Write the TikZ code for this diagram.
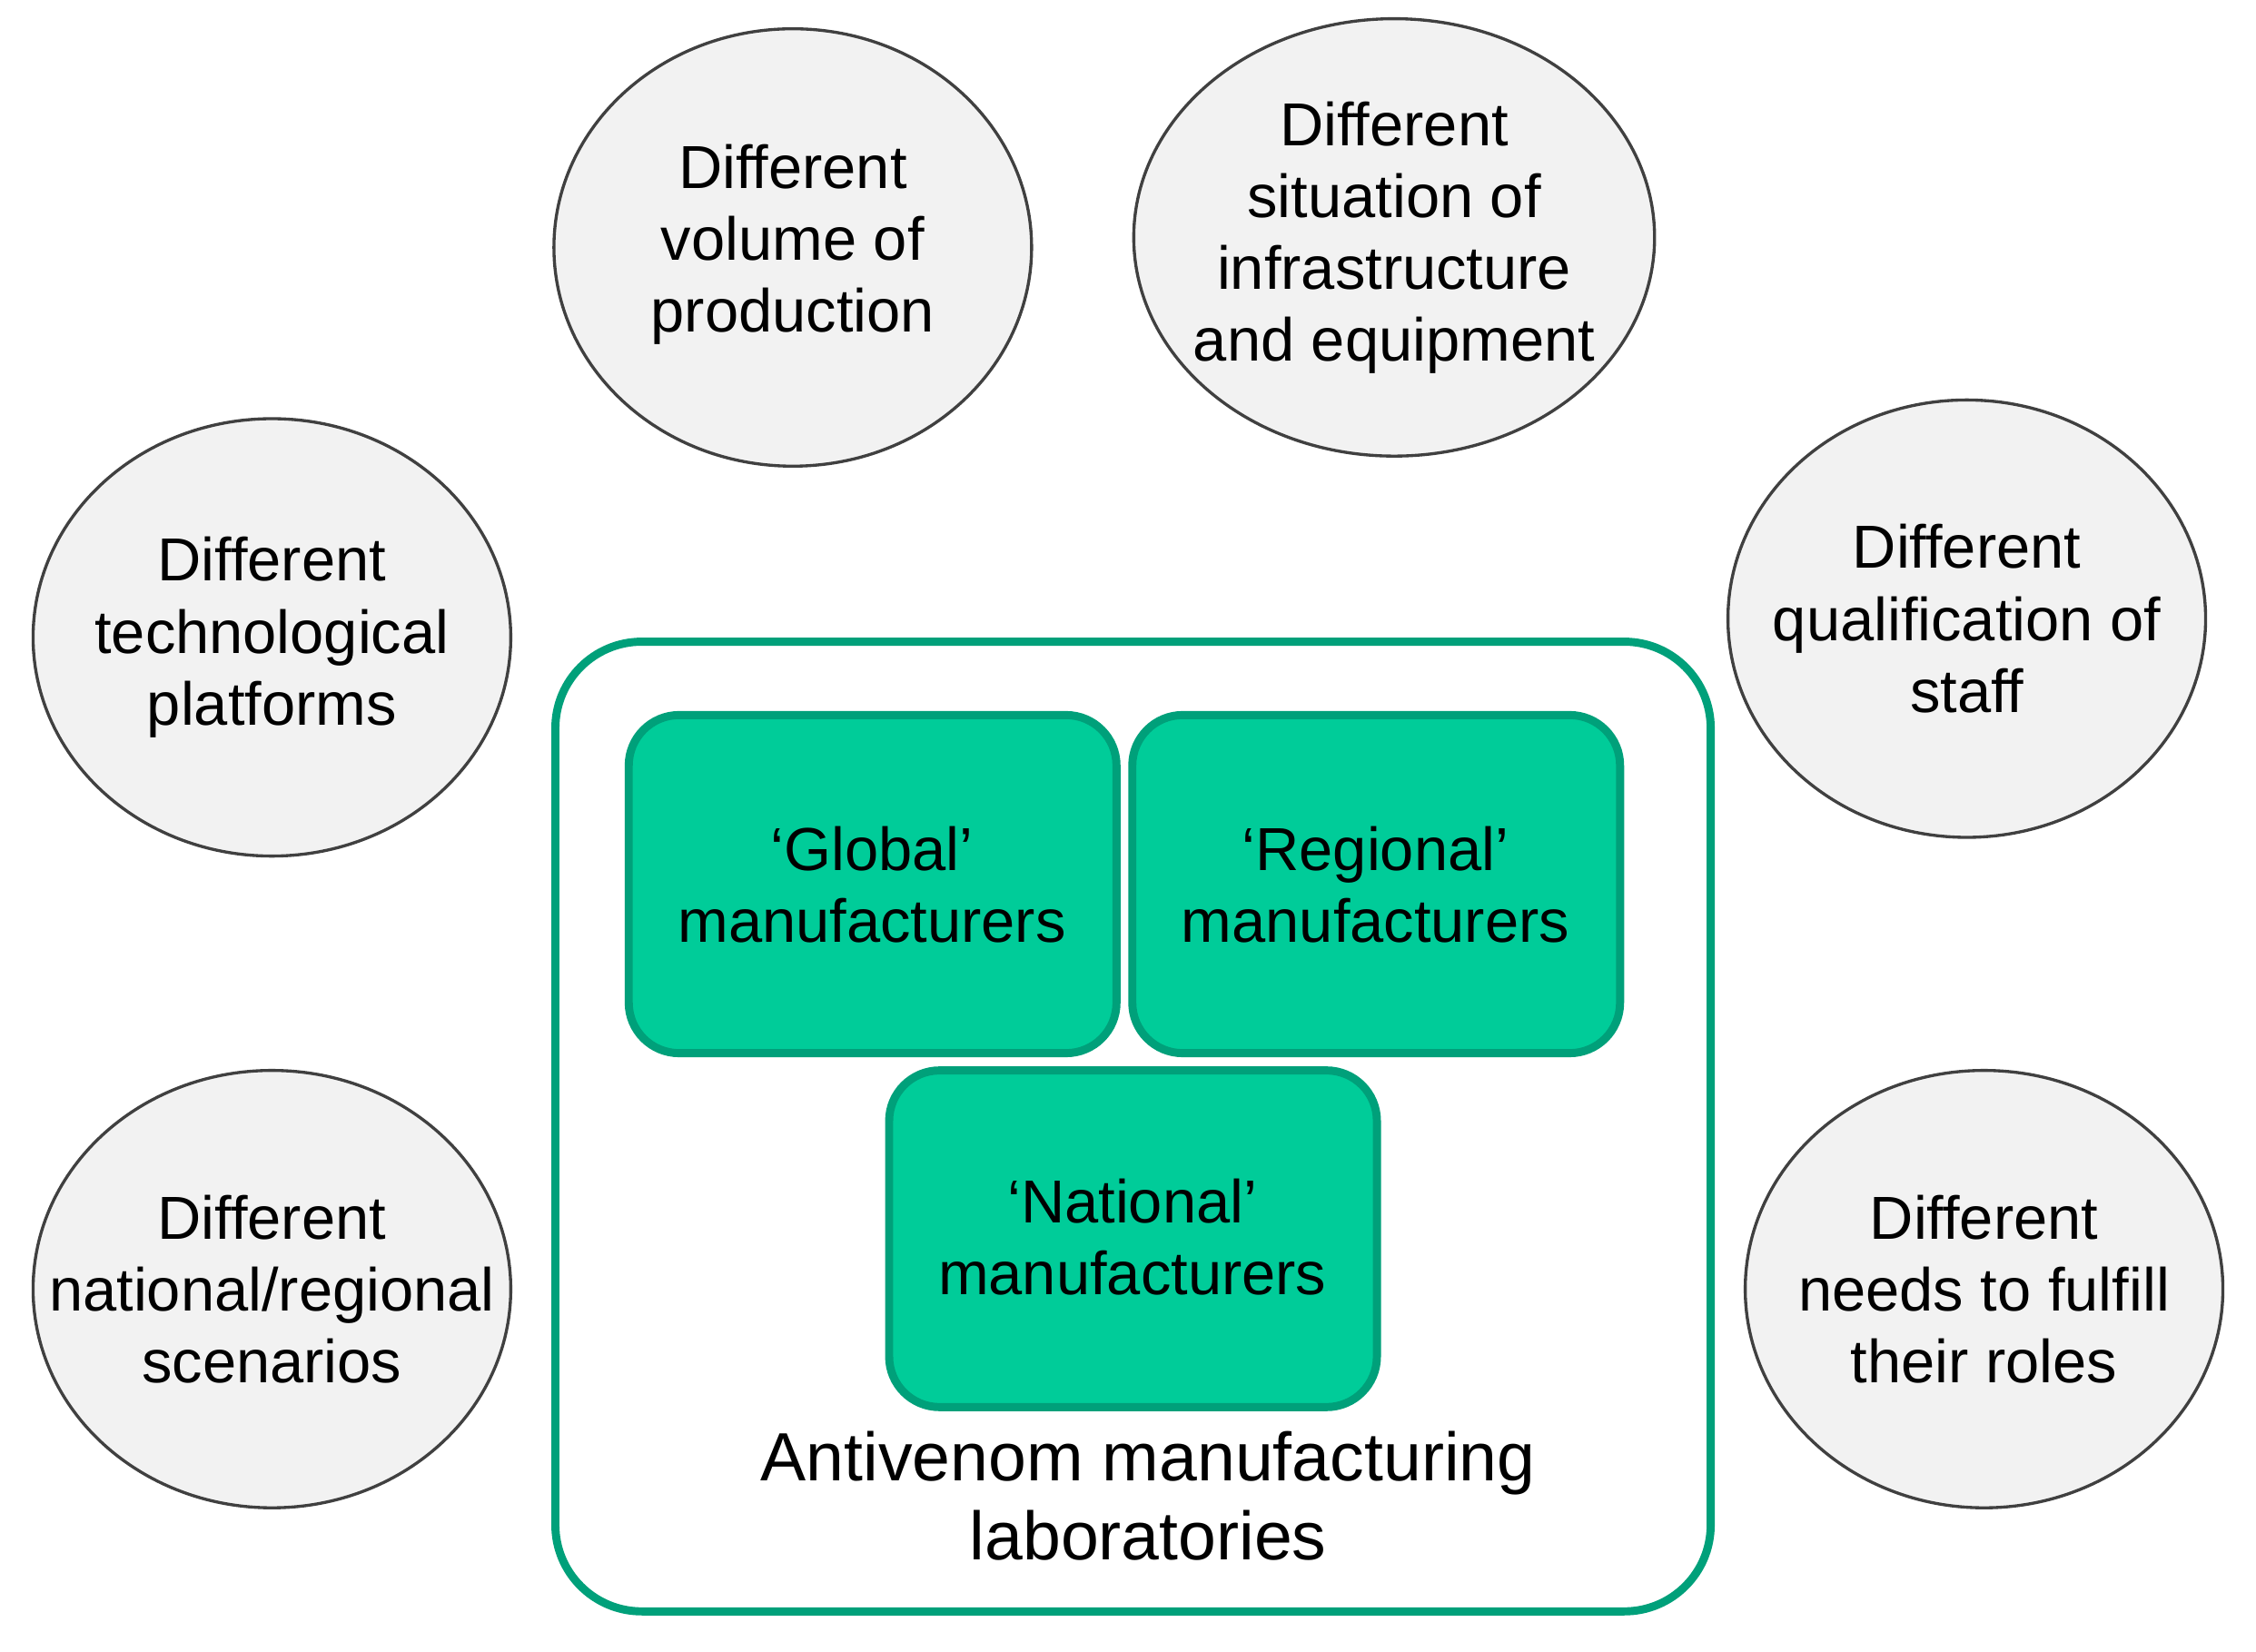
\documentclass[tikz,border=0pt]{standalone}
\usepackage{fontspec}
\setmainfont{Liberation Sans}
\definecolor{ellfill}{HTML}{F2F2F2}
\definecolor{ellline}{HTML}{404040}
\definecolor{boxfill}{HTML}{00CC99}
\definecolor{boxline}{HTML}{00A07A}
\definecolor{outer}{HTML}{00A07A}
\begin{document}
\begin{tikzpicture}[x=0.01cm,y=-0.01cm,
  ell/.style={draw=ellline,fill=ellfill,line width=0.6pt},
  etxt/.style={align=center,font=\fontsize{12}{14.2}\selectfont},
  box/.style={draw=boxline,fill=boxfill,line width=1.6pt,rounded corners=0.35cm},
  btxt/.style={align=center,font=\fontsize{12}{14.2}\selectfont}]
\useasboundingbox (0,0) rectangle (1568,1148);
% outer
\draw[draw=outer,line width=1.6pt,rounded corners=0.6cm] (386,446) rectangle (1189,1120);
\node[btxt,font=\fontsize{13.5}{15.6}\selectfont] (lab) at (798,1040) {Antivenom manufacturing\\laboratories};
% boxes
\draw[box] (437,497) rectangle (776,732);
\node[btxt] (g) at (606,615) {‘Global’\\manufacturers};
\draw[box] (787,497) rectangle (1126,732);
\node[btxt] (r) at (956,615) {‘Regional’\\manufacturers};
\draw[box] (618,744) rectangle (957,978);
\node[btxt] (n) at (787,860) {‘National’\\manufacturers};
% ellipses
\draw[ell] (551,172) ellipse [x radius=166,y radius=152];
\node[etxt] (e1) at (551,170) {Different\\volume of\\production};
\draw[ell] (969,165) ellipse [x radius=181,y radius=152];
\node[etxt] (e2) at (969,165) {Different\\situation of\\infrastructure\\and equipment};
\draw[ell] (189,443) ellipse [x radius=166,y radius=152];
\node[etxt] (e3) at (189,443) {Different\\technological\\platforms};
\draw[ell] (1367,430) ellipse [x radius=166,y radius=152];
\node[etxt] (e4) at (1367,430) {Different\\qualification of\\staff};
\draw[ell] (189,896) ellipse [x radius=166,y radius=152];
\node[etxt] (e5) at (189,896) {Different\\national/regional\\scenarios};
\draw[ell] (1379,896) ellipse [x radius=166,y radius=152];
\node[etxt] (e6) at (1379,896) {Different\\needs to fulfill\\their roles};
\end{tikzpicture}
\end{document}
